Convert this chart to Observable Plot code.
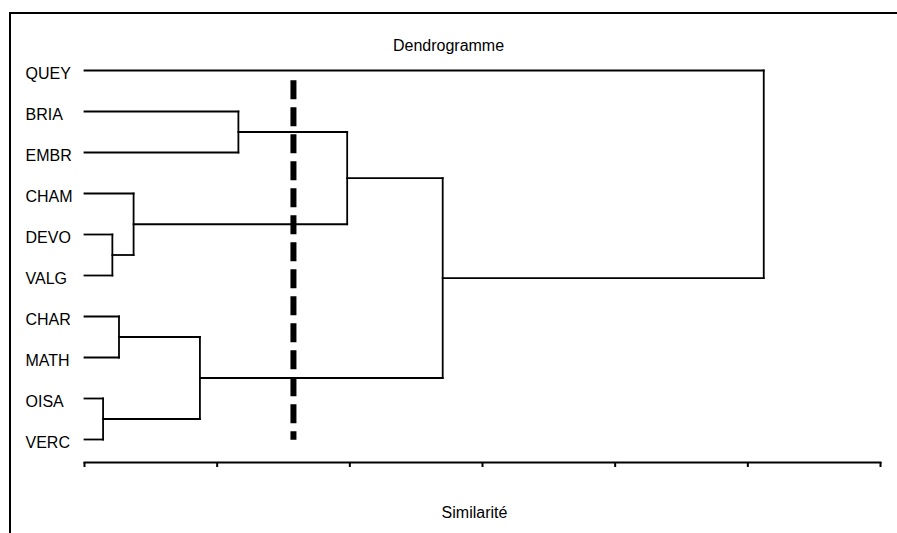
<!DOCTYPE html>
<html>
<head>
<meta charset="utf-8">
<script src="https://cdn.jsdelivr.net/npm/d3@7"></script>
<script src="https://cdn.jsdelivr.net/npm/@observablehq/plot@0.6"></script>
<style>
  html, body { margin: 0; padding: 0; background: #fff; }
  #wrap { position: relative; width: 897px; height: 533px; overflow: hidden; }
  #border { position: absolute; left: 9px; top: 12px; width: 900px; height: 540px;
            border-top: 2px solid #000; border-left: 2px solid #000; pointer-events: none; }
  svg { font-family: "Liberation Sans", Arial, sans-serif; }
</style>
</head>
<body>
<div id="wrap"><div id="border"></div></div>
<script>
// Leaves, top to bottom
const leaves = ["QUEY", "BRIA", "EMBR", "CHAM", "DEVO", "VALG", "CHAR", "MATH", "OISA", "VERC"];
// Merges: node ids 0-9 are leaves, 10+ are merges in this order
const mergeA = [4, 8, 6, 3, 1, 12, 14, 16, 0];
const mergeB = [5, 9, 7, 10, 2, 11, 13, 15, 17];
const mergeHeight = [0.21, 0.14, 0.26, 0.37, 1.16, 0.87, 1.98, 2.70, 5.12];
// Axis ticks (no labels shown)
const axisTicks = [0, 1, 2, 3, 4, 5, 6];
// Truncation level (dashed line) and its vertical extent in leaf units
const cutLevel = [1.575];
const cutSpan = [0.25, 9.02];
const titleText = "Dendrogramme";
const xLabel = "Similarité";

// Build node positions & segments
const pos = leaves.map((d, i) => ({x: 0, y: i}));
const segments = [];
mergeA.forEach((a, k) => {
  const b = mergeB[k], h = mergeHeight[k];
  const pa = pos[a], pb = pos[b];
  segments.push({x1: pa.x, y1: pa.y, x2: h, y2: pa.y});
  segments.push({x1: pb.x, y1: pb.y, x2: h, y2: pb.y});
  segments.push({x1: h, y1: pa.y, x2: h, y2: pb.y});
  pos.push({x: h, y: (pa.y + pb.y) / 2});
});

const chart = Plot.plot({
  width: 897,
  height: 533,
  marginLeft: 84,
  marginRight: 17,
  marginTop: 20,
  marginBottom: 71,
  style: {background: "transparent", fontFamily: "Liberation Sans, Arial, sans-serif", fontSize: "16px", color: "#000"},
  x: {domain: [0, 6]},
  y: {domain: [0, 9], range: [70, 439], axis: null},
  marks: [
    Plot.frame({anchor: "bottom", stroke: "#000", strokeWidth: 2}),
    Plot.axisX({ticks: axisTicks, tickFormat: () => "", tickSize: 5, strokeWidth: 2, stroke: "#000", label: null}),
    Plot.link(segments, {x1: "x1", y1: "y1", x2: "x2", y2: "y2", stroke: "#000", strokeWidth: 1.8, strokeLinecap: "square"}),
    Plot.ruleX(cutLevel, {y1: cutSpan[0], y2: cutSpan[1], stroke: "#000", strokeWidth: 6, strokeDasharray: "19,8", strokeLinecap: "butt"}),
    Plot.text(leaves, {x: 0, y: (d, i) => i, text: d => d, textAnchor: "start", dx: -59, dy: 3, fontSize: 16, fill: "#000", letterSpacing: 0.3}),
    Plot.text([titleText], {frameAnchor: "top", text: d => d, dx: -34, dy: 19, fontSize: 16, fill: "#000", letterSpacing: 0.5}),
    Plot.text([xLabel], {frameAnchor: "bottom", text: d => d, dx: -8, dy: 55, fontSize: 16, fill: "#000", letterSpacing: 0.5})
  ]
});
document.getElementById("wrap").prepend(chart);
</script>
</body>
</html>
